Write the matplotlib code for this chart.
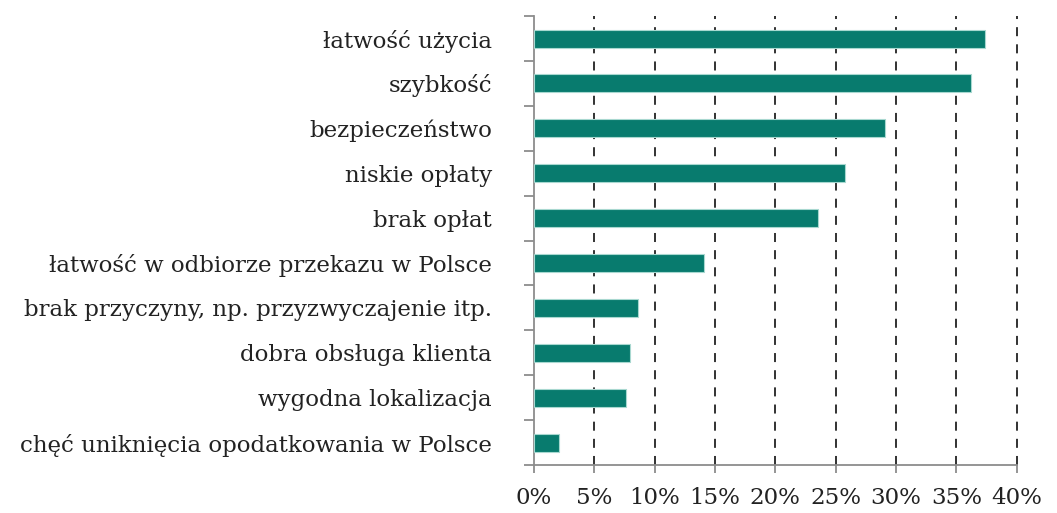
import matplotlib
matplotlib.use("Agg")
import matplotlib.pyplot as plt
import numpy as np

CATEGORIES = [
    "łatwość użycia",
    "szybkość",
    "bezpieczeństwo",
    "niskie opłaty",
    "brak opłat",
    "łatwość w odbiorze przekazu w Polsce",
    "brak przyczyny, np. przyzwyczajenie itp.",
    "dobra obsługa klienta",
    "wygodna lokalizacja",
    "chęć uniknięcia opodatkowania w Polsce",
]
VALUES = [37.4, 36.2, 29.1, 25.8, 23.5, 14.1, 8.6, 8.0, 7.6, 2.1]
X_TICKS = [0, 5, 10, 15, 20, 25, 30, 35, 40]

BAR_COLOR  = "#087B6E"
EDGE_COLOR = "#A8D8D0"
AXIS_GREY  = "#8C8C8C"

plt.rcParams.update({
    "font.family": ["DejaVu Serif"],
    "font.size":   16.5,
})

fig = plt.figure(figsize=(10.57, 5.13), dpi=100)
ax = fig.add_axes([0.505, 0.0936, 0.457, 0.875])

n = len(CATEGORIES)
y = np.arange(n)[::-1]
ax.barh(y, VALUES, height=0.4, color=BAR_COLOR, edgecolor=EDGE_COLOR,
        linewidth=0.8, zorder=3)

ax.set_xlim(0, 40)
ax.set_ylim(-0.5, n - 0.5)

for t in X_TICKS[1:]:
    ax.axvline(t, color="#222222", linestyle=(0, (5, 4.5)), linewidth=1.3,
               zorder=1, clip_on=False)

ax.set_xticks(X_TICKS)
ax.set_xticklabels([f"{t}%" for t in X_TICKS], color="#222222")
ax.tick_params(axis="x", length=6, width=1.3, color=AXIS_GREY, pad=10)

ax.set_yticks(np.arange(-0.5, n, 1.0))
ax.set_yticklabels([])
ax.set_yticks(y, minor=True)
ax.set_yticklabels(CATEGORIES, minor=True, color="#222222")
ax.tick_params(axis="y", which="major", length=7, width=1.3, color=AXIS_GREY)
ax.tick_params(axis="y", which="minor", length=0, pad=30)

for side in ("top", "right"):
    ax.spines[side].set_visible(False)
for side in ("left", "bottom"):
    ax.spines[side].set_color(AXIS_GREY)
    ax.spines[side].set_linewidth(1.3)

fig.savefig("out.png", dpi=100)
